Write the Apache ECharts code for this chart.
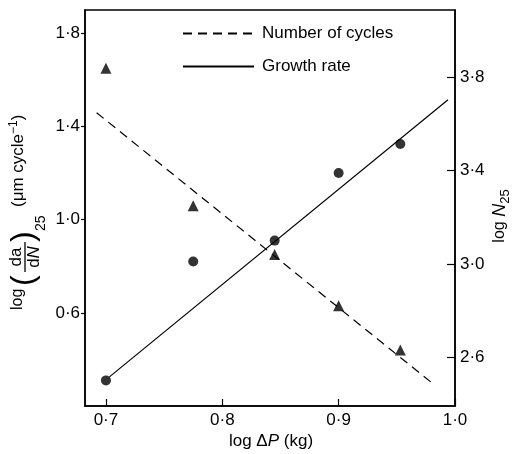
<!DOCTYPE html>
<html>
<head>
    <meta charset="utf-8">
    <title>log da/dN and N25 vs log dP</title>
    <script src="https://cdn.jsdelivr.net/npm/echarts@6/dist/echarts.min.js"></script>
    <style>
        body { margin: 0; background: #fff; }
    </style>
</head>
<body>
<div id="main" style="width: 515px;height:454px;"></div>
<script type="text/javascript">
    // values
    var logDP = [0.7, 0.775, 0.845, 0.9, 0.953];
    var growthRate = [0.31, 0.82, 0.91, 1.2, 1.325];     // left axis, circles
    var numCycles = [3.84, 3.25, 3.04, 2.82, 2.63];       // right axis, triangles
    // fitted lines (end points)
    var growthFitX = [0.703, 0.994];
    var growthFitY = [0.325, 1.515];
    var cyclesFitX = [0.692, 0.98];
    var cyclesFitY = [3.649, 2.49];
    // tick labels
    var xTicks = [0.7, 0.8, 0.9, 1.0];
    var leftTicks = [0.6, 1.0, 1.4, 1.8];
    var rightTicks = [2.6, 3.0, 3.4, 3.8];

    var FONT = 'Liberation Sans';

    function pairs(xs, ys) {
        var out = [];
        for (var i = 0; i < xs.length; i++) {
            out.push([xs[i], ys[i]]);
        }
        return out;
    }
    function dotFmt(v) {
        return v.toFixed(1).replace('.', '\u00b7');
    }

    var myChart = echarts.init(document.getElementById('main'));

    var option = {
        animation: false,
        backgroundColor: '#fff',
        textStyle: {fontFamily: FONT, color: '#000'},
        grid: {
            left: 85, right: 60, top: 10, bottom: 48,
            show: true, borderColor: '#000', borderWidth: 1.5
        },
        legend: {
            orient: 'vertical',
            left: 177, top: 20,
            itemWidth: 71, itemHeight: 14, itemGap: 16,
            data: ['Number of cycles', 'Growth rate'],
            itemStyle: {opacity: 0},
            textStyle: {fontFamily: FONT, fontSize: 17, color: '#000', padding: [0, 0, 0, 3]}
        },
        xAxis: {
            type: 'value',
            min: 0.682, max: 1.0,
            axisLine: {lineStyle: {color: '#000', width: 1.5}},
            axisTick: {inside: true, length: 7, lineStyle: {color: '#000', width: 1.2}, customValues: xTicks},
            axisLabel: {
                customValues: xTicks, formatter: dotFmt, margin: 6,
                fontFamily: FONT, fontSize: 17, color: '#000'
            },
            splitLine: {show: false}
        },
        yAxis: [{
            type: 'value',
            min: 0.2, max: 1.9,
            axisLine: {show: true, lineStyle: {color: '#000', width: 1.5}},
            axisTick: {show: true, length: 4, lineStyle: {color: '#000', width: 1.2}, customValues: leftTicks},
            axisLabel: {
                customValues: leftTicks, formatter: dotFmt, margin: 5,
                fontFamily: FONT, fontSize: 17, color: '#000'
            },
            splitLine: {show: false}
        }, {
            type: 'value',
            position: 'right',
            min: 2.39, max: 4.09,
            axisLine: {show: true, lineStyle: {color: '#000', width: 1.5}},
            axisTick: {show: true, inside: true, length: 8, lineStyle: {color: '#000', width: 1.2}, customValues: rightTicks},
            axisLabel: {
                customValues: rightTicks, formatter: dotFmt, margin: 5,
                fontFamily: FONT, fontSize: 17, color: '#000'
            },
            splitLine: {show: false}
        }],
        series: [{
            name: 'Number of cycles',
            type: 'line',
            yAxisIndex: 1,
            symbol: 'none',
            data: pairs(cyclesFitX, cyclesFitY),
            lineStyle: {color: '#000', width: 1.2, type: [9, 6]},
            itemStyle: {color: '#000'}
        }, {
            name: 'Growth rate',
            type: 'line',
            yAxisIndex: 0,
            symbol: 'none',
            data: pairs(growthFitX, growthFitY),
            lineStyle: {color: '#000', width: 1.2},
            itemStyle: {color: '#000'}
        }, {
            name: 'cycles points',
            type: 'scatter',
            yAxisIndex: 1,
            symbol: 'triangle',
            symbolSize: 11,
            data: pairs(logDP, numCycles),
            itemStyle: {color: '#000'}
        }, {
            name: 'growth points',
            type: 'scatter',
            yAxisIndex: 0,
            symbol: 'circle',
            symbolSize: 10,
            data: pairs(logDP, growthRate),
            itemStyle: {color: '#000'}
        }],
        graphic: [{
            // left axis title, read bottom to top
            type: 'group',
            x: 0, y: 310,
            rotation: Math.PI / 2,
            children: [
                {type: 'text', x: 0, y: 18, style: {text: 'log', font: '16px ' + FONT, fill: '#000', align: 'left', verticalAlign: 'middle'}},
                {type: 'text', x: 24, y: 24, style: {text: '(', font: '32px ' + FONT, fill: '#000', align: 'left', verticalAlign: 'middle'}},
                {type: 'text', x: 53, y: 16, style: {text: 'da', font: '17px ' + FONT, fill: '#000', align: 'center', verticalAlign: 'middle'}},
                {type: 'line', shape: {x1: 38, y1: 25, x2: 68, y2: 25}, style: {stroke: '#000', lineWidth: 1.3}},
                {type: 'text', x: 53, y: 34, style: {text: 'd{i|N}', font: '17px ' + FONT, fill: '#000', align: 'center', verticalAlign: 'middle',
                    rich: {i: {fontStyle: 'italic', fontSize: 17, fontFamily: FONT}}}},
                {type: 'text', x: 68, y: 24, style: {text: ')', font: '32px ' + FONT, fill: '#000', align: 'left', verticalAlign: 'middle'}},
                {type: 'text', x: 79, y: 41, style: {text: '25', font: '14px ' + FONT, fill: '#000', align: 'left', verticalAlign: 'middle'}},
                {type: 'text', x: 103, y: 18, style: {text: '(\u03bcm cycle{s|\u22121})', font: '17px ' + FONT, fill: '#000', align: 'left', verticalAlign: 'middle',
                    rich: {s: {fontSize: 12, fontFamily: FONT, verticalAlign: 'top', padding: [0, 0, 9, 0]}}}}
            ]
        }, {
            // right axis title
            type: 'text',
            x: 500, y: 216,
            rotation: Math.PI / 2,
            style: {
                text: 'log {i|N}{s|25}', font: '16px ' + FONT, fill: '#000', align: 'center', verticalAlign: 'middle',
                rich: {
                    i: {fontStyle: 'italic', fontSize: 18, fontFamily: FONT},
                    s: {fontSize: 13, fontFamily: FONT, padding: [10, 0, 0, 0]}
                }
            }
        }, {
            // x axis title
            type: 'text',
            x: 271, y: 441,
            style: {
                text: 'log \u0394{i|P} (kg)', font: '17px ' + FONT, fill: '#000', align: 'center', verticalAlign: 'middle',
                rich: {i: {fontStyle: 'italic', fontSize: 17, fontFamily: FONT}}
            }
        }],
    };
    myChart.setOption(option);
</script>
</body>
</html>
